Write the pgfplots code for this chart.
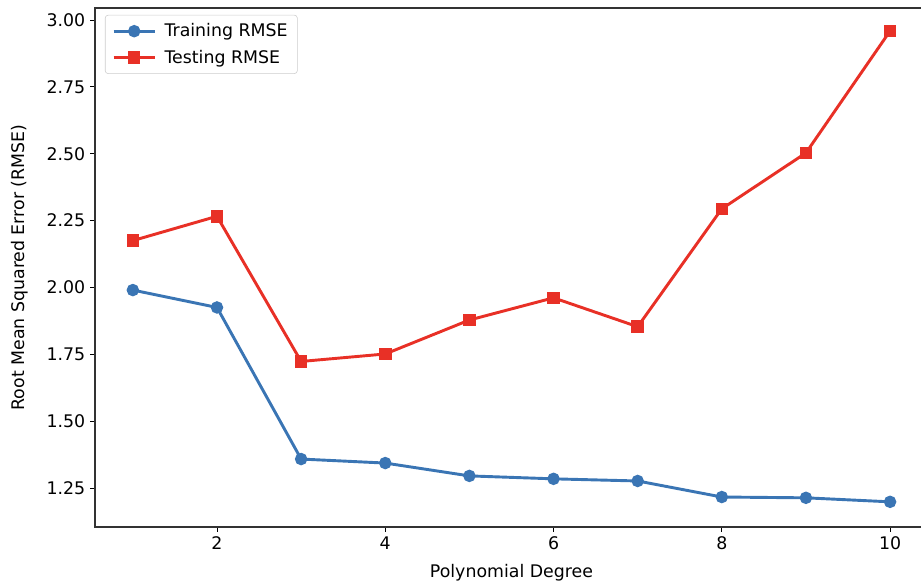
\documentclass[border=0pt]{standalone}
\usepackage{pgfplots}
\pgfplotsset{compat=1.18}
\usepackage{fontspec}
\setmainfont{DejaVu Sans}
\definecolor{trainblue}{RGB}{58,117,180}
\definecolor{testred}{RGB}{232,48,38}
\begin{document}
\begin{tikzpicture}
\begin{axis}[name=ax, at={(0pt,0pt)}, anchor=south west,
  scale only axis, width=599.8pt, height=373.7pt,
  xmin=0.55, xmax=10.45, ymin=1.104, ymax=3.045,
  xtick={2,4,6,8,10}, ytick={1.25,1.5,1.75,2.0,2.25,2.5,2.75,3.0},
  yticklabel style={/pgf/number format/.cd, fixed, fixed zerofill, precision=2},
  /pgf/number format/assume math mode=true,
  tick align=outside, major tick length=3.5pt, tick pos=left,
  tick style={black, line width=0.6pt},
  axis line style={black!80, line width=0.8pt},
  font=\fontsize{12.5}{15}\selectfont,
  xlabel={Polynomial Degree}, ylabel={Root Mean Squared Error (RMSE)},
  xlabel style={at={(axis description cs:0.5,-0.0886)}, anchor=center},
  ylabel style={at={(axis description cs:-0.09,0.5)}, anchor=center},
  legend cell align=left,
  legend style={at={(0,1)}, anchor=north west, xshift=7.2pt, yshift=-5pt,
    draw=black!20, rounded corners=2pt, fill=white, inner xsep=5pt, inner ysep=4pt,
    row sep=4pt, column sep=4pt, font=\fontsize{12.5}{15}\selectfont},
  legend image code/.code={\draw[mark repeat=2,mark phase=2] plot coordinates {(0cm,0cm)(0.52cm,0cm)(1.04cm,0cm)};},
]
\addplot[color=trainblue, line width=2.1pt, mark=*, mark size=4pt, mark options={solid, line width=1pt, fill=trainblue}]
coordinates {(1,1.990)(2,1.925)(3,1.358)(4,1.343)(5,1.295)(6,1.284)(7,1.276)(8,1.216)(9,1.213)(10,1.198)};
\addlegendentry{Training RMSE}
\addplot[color=testred, line width=2.1pt, mark=square*, mark size=4pt, mark options={solid, line width=1pt, fill=testred}]
coordinates {(1,2.175)(2,2.266)(3,1.723)(4,1.751)(5,1.878)(6,1.961)(7,1.853)(8,2.294)(9,2.503)(10,2.959)};
\addlegendentry{Testing RMSE}
\end{axis}
\pgfresetboundingbox
\path[use as bounding box] (-68.4pt,-41pt) rectangle (594.8pt,379.46pt);
\end{tikzpicture}
\end{document}
